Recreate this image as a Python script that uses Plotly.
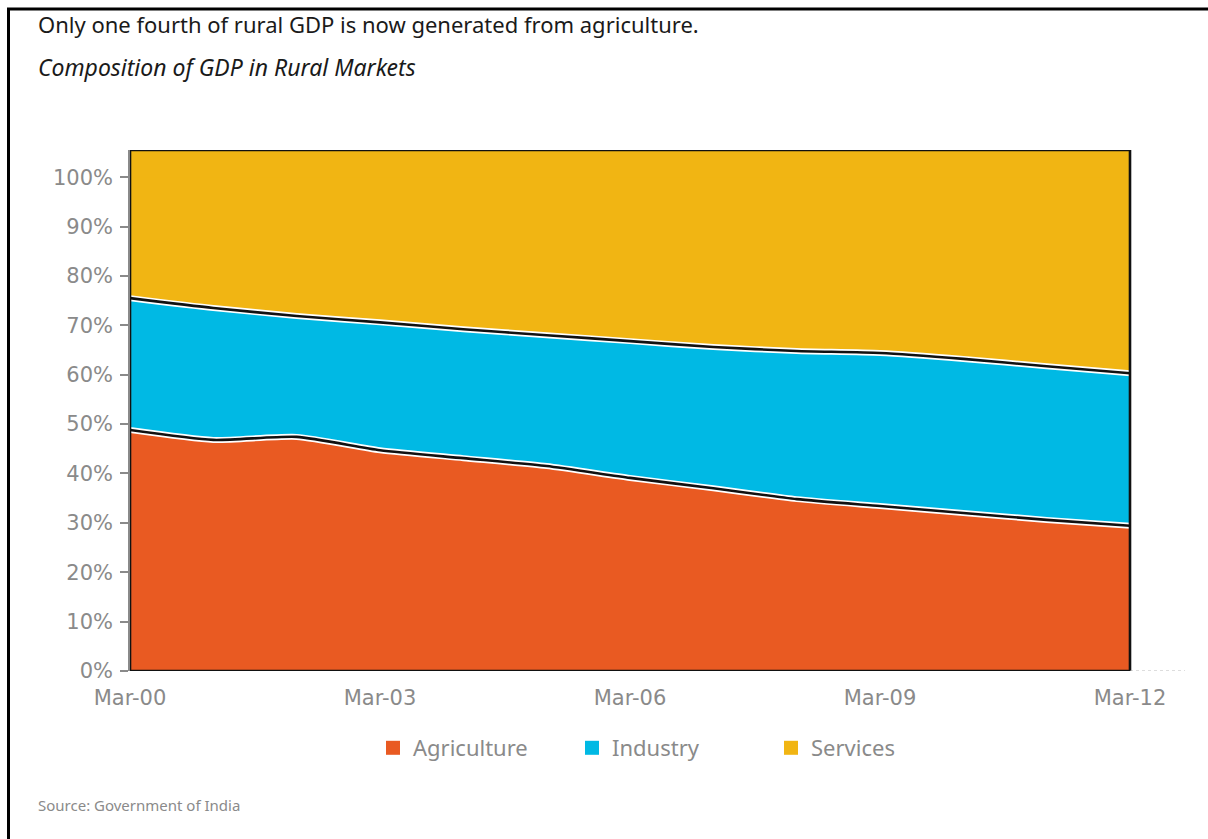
import plotly.graph_objects as go

# Share of rural GDP by sector (%), March of each year
years = [2000, 2001, 2002, 2003, 2004, 2005, 2006, 2007, 2008, 2009, 2010, 2011, 2012]
agriculture = [48.8, 46.8, 47.4, 44.7, 43.1, 41.5, 39.1, 37.0, 34.8, 33.4, 32.0, 30.6, 29.4]
industry = [26.7, 26.7, 24.5, 25.9, 26.1, 26.5, 27.7, 28.6, 30.0, 31.0, 31.2, 31.1, 30.9]
services = [round(100 - a - i, 1) for a, i in zip(agriculture, industry)]

tick_years = [2000, 2003, 2006, 2009, 2012]
tick_labels = ["Mar-00", "Mar-03", "Mar-06", "Mar-09", "Mar-12"]
y_ticks = list(range(0, 101, 10))
y_labels = [f"{v}%" for v in y_ticks]

ORANGE = "#e95a22"
BLUE = "#00b9e4"
YELLOW = "#f1b513"
GREY = "#8a8a8a"
FONT = "Noto Sans, sans-serif"
TICK_FONT = "DejaVu Sans, sans-serif"

Y_TOP = 105.5
SPLINE = dict(shape="spline", smoothing=0.6)

fig = go.Figure()

sectors = [("Agriculture", agriculture, ORANGE),
           ("Industry", industry, BLUE),
           ("Services", services, YELLOW)]

for name, vals, col in sectors:
    fig.add_trace(go.Scatter(
        x=years, y=vals, name=name, stackgroup="gdp", mode="lines",
        line=dict(width=0, **SPLINE), fillcolor=col,
        showlegend=False, hoverinfo="x+y+name",
    ))

# Black boundary lines between sectors, with a thin white halo
cum_agri = agriculture
cum_ind = [a + i for a, i in zip(agriculture, industry)]
for vals in (cum_agri, cum_ind):
    fig.add_trace(go.Scatter(
        x=years, y=vals, mode="lines", showlegend=False, hoverinfo="skip",
        line=dict(color="white", width=6, **SPLINE),
    ))
    fig.add_trace(go.Scatter(
        x=years, y=vals, mode="lines", showlegend=False, hoverinfo="skip",
        line=dict(color="#111111", width=2.6, **SPLINE),
    ))

# Square legend keys
for name, _, col in sectors:
    fig.add_trace(go.Scatter(
        x=[None], y=[None], name=name, mode="markers",
        marker=dict(symbol="square", size=14, color=col),
    ))

# Pixel helpers for paper-positioned decorations
PLOT_L, PLOT_R, PLOT_T, PLOT_B = 130, 1185, 150, 671
px_w, px_h = PLOT_R - PLOT_L, PLOT_B - PLOT_T
def px_x(x):
    return (x - PLOT_L) / px_w
def px_y(y):
    return (PLOT_B - y) / px_h

shapes = [
    # services band runs up to the top of the frame
    dict(type="rect", xref="x", yref="y", x0=2000, x1=2012, y0=99, y1=Y_TOP,
         fillcolor=YELLOW, line=dict(width=0), layer="below"),
    # frame around the stacked area
    dict(type="rect", xref="x", yref="y", x0=2000, x1=2012, y0=0, y1=Y_TOP,
         line=dict(color="#111111", width=2.6), fillcolor="rgba(0,0,0,0)", layer="above"),
    # dotted extension of the baseline
    dict(type="line", xref="x", yref="y", x0=2012, x1=2012.66, y0=0, y1=0,
         line=dict(color="#bbbbbb", width=1, dash="dot")),
    # page border: top and left edges
    dict(type="line", xref="paper", yref="paper", x0=px_x(7), x1=px_x(1208),
         y0=px_y(9), y1=px_y(9), line=dict(color="black", width=3)),
    dict(type="line", xref="paper", yref="paper", x0=px_x(8.5), x1=px_x(8.5),
         y0=px_y(8), y1=px_y(839), line=dict(color="black", width=3)),
]

fig.update_layout(
    width=1208, height=839,
    margin=dict(l=PLOT_L, r=1208 - PLOT_R, t=PLOT_T, b=839 - PLOT_B),
    paper_bgcolor="white", plot_bgcolor="white",
    font=dict(family=FONT, color=GREY),
    showlegend=True,
    legend=dict(orientation="h", x=px_x(373), xanchor="left",
                y=px_y(748), yanchor="middle",
                font=dict(size=22, color=GREY, family=FONT),
                traceorder="normal", entrywidth=154, entrywidthmode="pixels",
                bgcolor="rgba(0,0,0,0)"),
    xaxis=dict(range=[2000, 2012.66], tickmode="array", tickvals=tick_years,
               ticktext=tick_labels, showgrid=False, zeroline=False,
               showline=False, ticks="", ticklabelstandoff=12,
               tickfont=dict(size=21, color=GREY, family=TICK_FONT)),
    yaxis=dict(range=[0, Y_TOP], tickmode="array", tickvals=y_ticks,
               ticktext=y_labels, showgrid=False, zeroline=False,
               showline=True, linecolor=GREY, linewidth=1.5, ticks="outside",
               ticklen=8, tickcolor=GREY, tickwidth=1.5, ticklabelstandoff=3,
               tickfont=dict(size=21, color=GREY, family=TICK_FONT)),
    shapes=shapes,
    annotations=[
        dict(text="Only one fourth of rural GDP is now generated from agriculture.",
             xref="paper", yref="paper", x=px_x(36), y=px_y(24),
             xanchor="left", yanchor="middle", showarrow=False,
             font=dict(size=22, color="#1a1a1a", family=FONT)),
        dict(text="<i>Composition of GDP in Rural Markets</i>",
             xref="paper", yref="paper", x=px_x(36), y=px_y(67),
             xanchor="left", yanchor="middle", showarrow=False,
             font=dict(size=23, color="#1a1a1a", family=FONT)),
        dict(text="Source: Government of India",
             xref="paper", yref="paper", x=px_x(36), y=px_y(805),
             xanchor="left", yanchor="middle", showarrow=False,
             font=dict(size=15, color=GREY, family=FONT)),
    ],
)

fig.write_html("out.html")
